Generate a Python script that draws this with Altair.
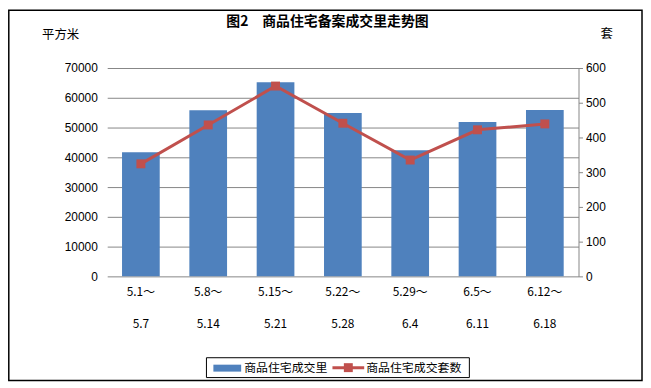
import altair as alt
import pandas as pd

# ---- data ----
period_start = ["5.1～", "5.8～", "5.15～", "5.22～", "5.29～", "6.5～", "6.12～"]
period_end = ["5.7", "5.14", "5.21", "5.28", "6.4", "6.11", "6.18"]
area_sqm = [41700, 55800, 65200, 54900, 42400, 51900, 55900]   # 商品住宅成交量 (平方米)
units_sold = [324, 436, 548, 441, 335, 422, 439]                # 商品住宅成交套数 (套)

title_text = "图2　商品住宅备案成交里走势图"
left_unit = "平方米"
right_unit = "套"
legend_bar = "商品住宅成交里"
legend_line = "商品住宅成交套数"

periods = [f"{a}|{b}" for a, b in zip(period_start, period_end)]
df = pd.DataFrame({"period": periods, "area": area_sqm, "units": units_sold})

CJK = "Noto Sans CJK SC"
NUM = "Liberation Sans"
BLUE = "#4F81BD"
RED = "#C0504D"
GRID = "#868686"

W, H = 475, 210

x_enc = alt.X(
    "period:N",
    sort=periods,
    scale=alt.Scale(paddingInner=0.44, paddingOuter=0.22),
    axis=alt.Axis(
        title=None, labelAngle=0, ticks=False, domain=False,
        labelExpr="split(datum.value, '|')",
        labelFont=CJK, labelFontSize=12, labelColor="black",
        labelLineHeight=32.7, labelBaseline="top", labelPadding=10,
    ),
)

bars = alt.Chart(df).mark_bar(color=BLUE).encode(
    x=x_enc,
    y=alt.Y(
        "area:Q",
        scale=alt.Scale(domain=[0, 70000]),
        axis=alt.Axis(
            title=None, values=list(range(0, 70001, 10000)), format="d",
            domain=False, ticks=False, grid=True, gridColor=GRID, gridWidth=1,
            labelFont=NUM, labelFontSize=12, labelColor="black", labelPadding=10,
        ),
    ),
)

line = alt.Chart(df).mark_line(
    color=RED, strokeWidth=3,
    point=alt.OverlayMarkDef(shape="square", size=81, filled=True, color=RED),
).encode(
    x=x_enc,
    y=alt.Y(
        "units:Q",
        scale=alt.Scale(domain=[0, 600]),
        axis=alt.Axis(
            orient="right", title=None, values=list(range(0, 601, 100)),
            grid=False, domain=True, domainColor=GRID, ticks=True, tickColor=GRID,
            tickSize=4, labelFont=NUM, labelFontSize=12, labelColor="black",
            labelPadding=3,
        ),
    ),
)

one = alt.Data(values=[{"k": 1}])

def txt(s, x, y, size=12, weight="normal", align="center"):
    return alt.Chart(one).mark_text(
        font=CJK, fontSize=size, fontWeight=weight, align=align,
        baseline="middle", color="black",
    ).encode(x=alt.value(x), y=alt.value(y), text=alt.value(s))

def box(x, x2, y, y2, **kw):
    return alt.Chart(one).mark_rect(**kw).encode(
        x=alt.value(x), x2=alt.value(x2), y=alt.value(y), y2=alt.value(y2))

frame = box(-99.2, 539, -58.2, 315, fillOpacity=0, stroke="black", strokeWidth=1.5)
title = txt(title_text, 222, -46, size=14, weight="bold")
lunit = txt(left_unit, -47, -33, size=12.5)
runit = txt(right_unit, 503.5, -34, size=12.5)

leg_box = box(100, 365, 292, 312, fill="white", stroke="black", strokeWidth=1)
leg_bar = box(107, 135, 299, 306, fill=BLUE)
leg_line = alt.Chart(one).mark_rule(color=RED, strokeWidth=3).encode(
    x=alt.value(227), x2=alt.value(259), y=alt.value(302))
leg_pt = alt.Chart(one).mark_point(shape="square", size=81, filled=True, color=RED, opacity=1).encode(
    x=alt.value(243), y=alt.value(302))
leg_t1 = txt(legend_bar, 138, 302, align="left")
leg_t2 = txt(legend_line, 261, 302, align="left")

chart = alt.layer(
    bars, line, frame, title, lunit, runit,
    leg_box, leg_bar, leg_line, leg_pt, leg_t1, leg_t2,
).resolve_scale(y="independent").properties(
    width=W, height=H,
    autosize=alt.AutoSizeParams(type="none"),
    padding={"left": 100, "top": 59, "right": 65, "bottom": 106},
    background="white",
).configure_view(stroke="transparent")

chart.save("out.html", embed_options={"renderer": "svg", "actions": False})
